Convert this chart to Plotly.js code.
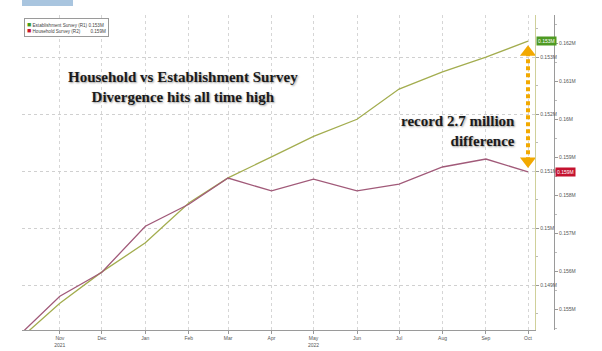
<!DOCTYPE html>
<html><head><meta charset="utf-8">
<script src="https://cdn.plot.ly/plotly-3.0.1.min.js"></script>
<style>html,body{margin:0;padding:0;background:#fff}#c{width:602px;height:351px}</style>
</head><body><div id="c"></div>
<script>
// ---- data (values in the chart's own "M" units) ----
const months = ['2021-10-01','2021-11-01','2021-12-01','2022-01-01','2022-02-01','2022-03-01','2022-04-01','2022-05-01','2022-06-01','2022-07-01','2022-08-01','2022-09-01','2022-10-01'];
const establishment = [0.14800,0.14868,0.14923,0.14974,0.15044,0.15088,0.15125,0.15161,0.15191,0.15244,0.15274,0.15300,0.15328];
const household     = [0.15424,0.15534,0.15597,0.15718,0.15776,0.15845,0.15811,0.15842,0.15811,0.15829,0.15874,0.15895,0.15861];
const tickDates = ['2021-11-01','2021-12-01','2022-01-01','2022-02-01','2022-03-01','2022-04-01','2022-05-01','2022-06-01','2022-07-01','2022-08-01','2022-09-01','2022-10-01'];
const tickLabels = ['Nov<br>2021','Dec','Jan','Feb','Mar','Apr','May<br>2022','Jun','Jul','Aug','Sep','Oct'];
const seriesNames = ['Establishment Survey (R1)','Household Survey (R2)'];

const r1 = [0.14821, 0.15374];
const r2 = [0.15445, 0.16274];
const plotH = 315;

const estColor = '#a3ad4f', hhColor = '#a15a79', arrowColor = '#f2a900';
const n = months.length - 1;
const estLast = establishment[n], hhLast = household[n];
const hhOnR1 = r1[0] + (hhLast - r2[0]) / (r2[1] - r2[0]) * (r1[1] - r1[0]);
const pxR1 = (r1[1] - r1[0]) / plotH;

const traces = [
  {x: months, y: establishment, type:'scatter', mode:'lines', name: seriesNames[0],
   line:{color:estColor, width:1.3}, xaxis:'x', yaxis:'y', hoverinfo:'skip'},
  {x: months, y: household, type:'scatter', mode:'lines', name: seriesNames[1],
   line:{color:hhColor, width:1.3}, xaxis:'x', yaxis:'y2', hoverinfo:'skip'},
  {x: [months[n], months[n]], y: [estLast - 11*pxR1, hhOnR1 + 11*pxR1], type:'scatter', mode:'lines+markers',
   line:{color:arrowColor, width:4, dash:'4px,3px'},
   marker:{symbol:['triangle-up','triangle-down'], size:14, color:arrowColor},
   xaxis:'x', yaxis:'y', showlegend:false, hoverinfo:'skip', cliponaxis:false}
];

const small = {family:'Liberation Sans, Arial, sans-serif', size:5, color:'#555'};
const big = {family:'Liberation Serif, Times New Roman, serif', size:15, color:'#1a1a1a', weight:'bold',
             shadow:'1px 1px 2px rgba(0,0,0,0.4)'};

const layout = {
  width:602, height:351,
  margin:{l:22, r:48, t:15, b:21, pad:0},
  paper_bgcolor:'#fff', plot_bgcolor:'#fff',
  showlegend:false,
  xaxis:{type:'date', domain:[0, 0.9643], range:['2021-10-05','2022-10-06'],
    tickvals: tickDates, ticktext: tickLabels, tickfont: small,
    showgrid:true, gridcolor:'#d6d6d6', griddash:'dot', gridwidth:1,
    showline:true, linecolor:'#9a9a9a', linewidth:1,
    ticks:'outside', ticklen:3, tickcolor:'#999', zeroline:false, fixedrange:true},
  yaxis:{side:'right', anchor:'x', range:r1, dtick:0.001, tick0:0.149, ticksuffix:'M',
    tickfont: small, showgrid:true, gridcolor:'#d0d0d0', griddash:'dot',
    showline:true, linecolor:'#cfd09a', linewidth:1.2,
    ticks:'outside', ticklen:3, tickcolor:'#999', zeroline:false,
    minor:{ticks:'outside', ticklen:2, tickcolor:'#bbb', dtick:0.0005, showgrid:false}},
  yaxis2:{overlaying:'y', side:'right', anchor:'free', position:1, range:r2, dtick:0.001, tick0:0.155,
    ticksuffix:'M', tickfont: small, showgrid:false,
    showline:true, linecolor:'#9a9a9a', linewidth:1,
    ticks:'outside', ticklen:3, tickcolor:'#999', zeroline:false,
    minor:{ticks:'outside', ticklen:2, tickcolor:'#bbb', dtick:0.0005, showgrid:false}},
  shapes:[
    {type:'rect', xref:'paper', yref:'paper', x0:0, x1:0.0959, y0:1.0286, y1:1.0476,
     fillcolor:'#a9c5df', line:{width:0}}
  ],
  annotations:[
    {xref:'paper', yref:'paper', x:0.3026, y:0.773, xanchor:'center', yanchor:'middle', align:'center',
     showarrow:false, font:big,
     text:'Household vs Establishment Survey<br>Divergence hits all time high'},
    {xref:'paper', yref:'paper', x:0.930, y:0.632, xanchor:'right', yanchor:'middle', align:'right',
     showarrow:false, font:big, text:'record 2.7 million<br>difference'},
    {xref:'paper', yref:'paper', x:0.004, y:0.992, xanchor:'left', yanchor:'top', align:'left',
     showarrow:false, bgcolor:'#fff', bordercolor:'#9a9a9a', borderwidth:1, borderpad:2,
     font:{family:'Liberation Sans, Arial, sans-serif', size:4.6, color:'#444'},
     text:"<span style='color:#3f9b1f;font-size:7px'>■</span> " + seriesNames[0] + ' ' + estLast.toFixed(3) + 'M<br>' +
          "<span style='color:#c4122f;font-size:7px'>■</span> " + seriesNames[1] + '&nbsp;&nbsp;&nbsp;&nbsp;&nbsp;&nbsp;&nbsp;&nbsp;' + hhLast.toFixed(3) + 'M'},
    {xref:'paper', yref:'y', x:0.9662, y:estLast, xanchor:'left', yanchor:'middle', showarrow:false,
     bgcolor:'#4e9a22', borderpad:1, font:{family:'Liberation Sans, Arial, sans-serif', size:5, color:'#fff'},
     text: estLast.toFixed(3) + 'M'},
    {xref:'paper', yref:'y2', x:1.002, y:hhLast, xanchor:'left', yanchor:'middle', showarrow:false,
     bgcolor:'#c4122f', borderpad:1, font:{family:'Liberation Sans, Arial, sans-serif', size:5, color:'#fff'},
     text: hhLast.toFixed(3) + 'M'}
  ]
};
Plotly.newPlot('c', traces, layout, {displayModeBar:false, staticPlot:true});
</script></body></html>
